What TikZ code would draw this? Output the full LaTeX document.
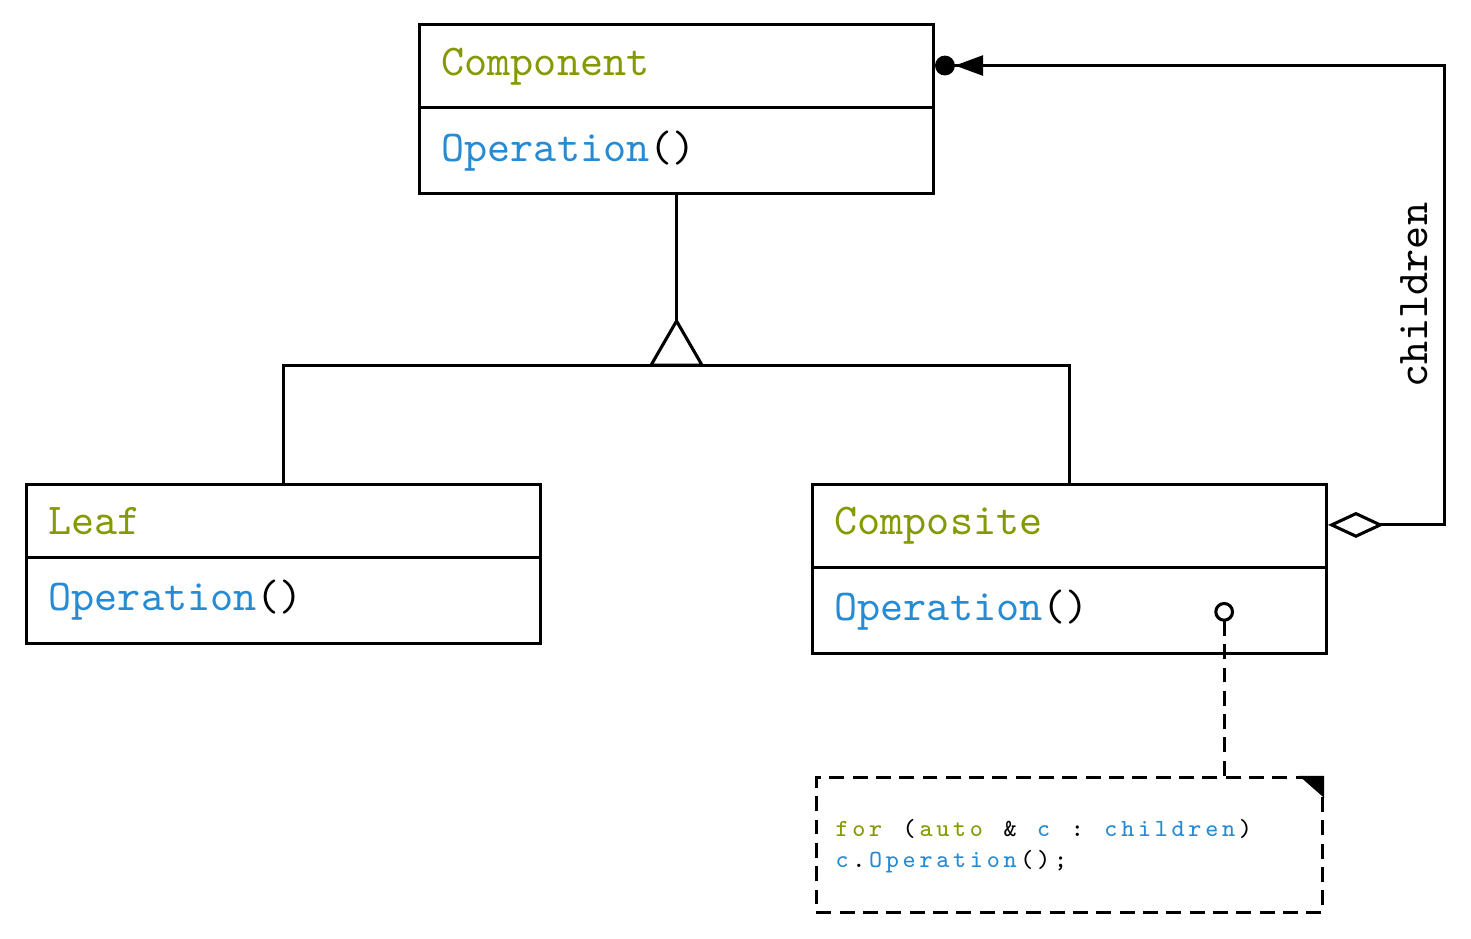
\documentclass[tikz,border=0pt]{standalone}
\usepackage{xcolor}
\usepackage{tikz}
\usetikzlibrary{shapes,arrows.meta,positioning,calc}
\definecolor{green}{RGB}{133, 153, 0}
\definecolor{blue}{RGB}{38, 139, 210}
\makeatletter
\newcommand{\codechars}[1]{\@tfor\codechar:=#1\do{\makebox[3.82pt][c]{\codechar}}}
\makeatother
\newcommand{\ckw}[1]{\textcolor{green}{\codechars{#1}}}
\newcommand{\cid}[1]{\textcolor{blue}{\codechars{#1}}}
\newcommand{\cpl}[1]{\codechars{#1}}
\newcommand{\codesp}{\hspace*{3.82pt}}
\tikzstyle{cls} = [rectangle split, rectangle split parts=2, draw, line width=0.7pt, text width=106.8pt, align=left, inner xsep=5pt, inner ysep=4.85pt]
\tikzstyle{note} = [draw, dash pattern=on 3.4pt off 1.9pt, line width=0.7pt, minimum width=115pt, minimum height=30.7pt, text width=107.2pt, text height=4.5pt, text depth=8.4pt, inner xsep=3.9pt, align=left, font=\ttfamily\fontsize{5.6}{7.2}\selectfont]
\tikzstyle{gen} = [regular polygon, regular polygon sides=3, draw, fill=white, line width=0.7pt, minimum size=13.4pt, inner sep=0pt, outer sep=0pt]
\tikzstyle{gedge} = [draw, line width=0.7pt]
\tikzstyle{aggr} = [draw, line width=0.7pt, {Diamond[open, length=12.7pt, width=5.9pt]}-{Triangle[length=6.4pt, width=4.5pt] Circle[length=4.5pt]}]
\tikzstyle{notelink} = [draw, line width=0.7pt, dash pattern=on 3.4pt off 1.9pt, -{Circle[open, length=4.5pt]}]

\begin{document}
\begin{tikzpicture}[font=\ttfamily]
\useasboundingbox (0,0) rectangle (334.3pt,-213.2pt);

% classes =============================
\node[cls, anchor=north west] (Component) at (95pt,-5.3pt) {\textcolor{green}{Component}\nodepart{two}\textcolor{blue}{Operation}()};
\node[cls, below=65.3pt of Component, xshift=-89.3pt] (Leaf) {\textcolor{green}{Leaf}\nodepart{two}\textcolor{blue}{Operation}()};
\node[cls, below=65.3pt of Component, xshift=89.3pt] (Composite) {\textcolor{green}{Composite}\nodepart{two}\textcolor{blue}{Operation}()};
\node[note, below=27.5pt of Composite] (Note) {\ckw{for}\codesp\cpl{(}\ckw{auto}\codesp\cpl{\&}\codesp\cid{c}\codesp\cpl{:}\codesp\cid{children}\cpl{)}\\
\cid{c}\cpl{.}\cid{Operation}\cpl{();}};
\fill (Note.north east) -- ([xshift=-5.7pt]Note.north east) -- ([yshift=-5pt]Note.north east) -- cycle;

% helper points
\coordinate[below=38.6pt of Component] (hub);
\coordinate (rail) at (328.2pt,0);
\coordinate (top) at ($(Component.north east)!.5!(Component.text split east)$);
\coordinate (agg) at ($(Composite.north east)!.5!(Composite.text split east)$);
\coordinate (hook) at ([shift={(-23.6pt,12pt)}]Composite.south east);

% edges
\path[gedge] (Leaf.north) |- (hub) -| (Composite.north);
\node[gen, anchor=side 2] (tri) at (hub) {};
\path[gedge] (Component.south) -- (tri.corner 1);
\path[aggr] (agg) -- (agg -| rail) -- node[sloped, above] {children} (top -| rail) -- (top);
\path[notelink] (hook |- Note.north) -- (hook);

\end{tikzpicture}
\end{document}
